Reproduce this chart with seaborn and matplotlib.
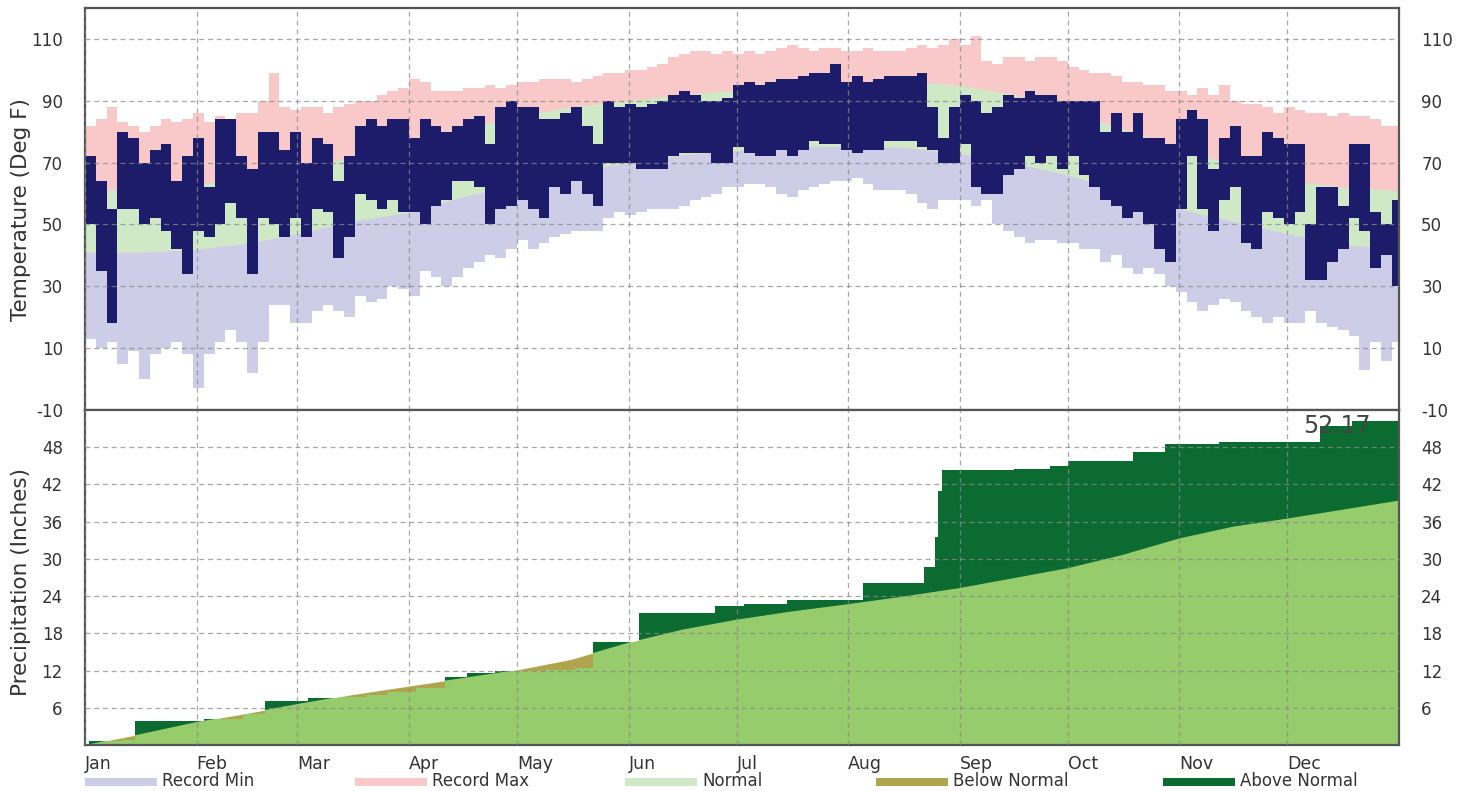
import numpy as np
import matplotlib
matplotlib.use("Agg")
import matplotlib.pyplot as plt
from matplotlib.patches import Rectangle
import seaborn as sns

# ---- data ----
months = ["Jan", "Feb", "Mar", "Apr", "May", "Jun", "Jul", "Aug", "Sep", "Oct", "Nov", "Dec"]
month_starts = [0, 31, 59, 90, 120, 151, 181, 212, 243, 273, 304, 334]

# temperatures in 3-day bins (deg F)
rec_max = [82, 84, 88, 83, 82, 80, 82, 84, 83, 84, 86, 83, 85, 84, 86, 86, 90, 99, 88, 87,
           88, 88, 86, 88, 89, 90, 90, 92, 93, 94, 97, 96, 93, 93, 93, 94, 94, 95, 94, 95, 96,
           96, 97, 97, 97, 96, 97, 98, 99, 99, 100, 100, 101, 102, 104, 105, 106, 106, 105, 106, 105,
           106, 105, 106, 107, 108, 107, 106, 107, 107, 106, 106, 107, 106, 106, 106, 107, 108, 107, 108, 110,
           108, 111, 103, 102, 104, 104, 103, 104, 104, 103, 101, 100, 99, 99, 98, 96, 96, 95, 95, 93, 93,
           92, 94, 92, 95, 90, 89, 89, 88, 86, 88, 87, 86, 86, 85, 86, 85, 85, 84, 82, 82]
rec_min = [13, 10, 12, 5, 9, 0, 8, 10, 12, 8, -3, 8, 12, 16, 12, 2, 12, 24, 24, 18,
           18, 22, 24, 22, 20, 27, 25, 26, 30, 29, 27, 35, 33, 30, 33, 36, 38, 40, 39, 42, 45,
           42, 44, 46, 47, 48, 48, 48, 52, 54, 53, 54, 55, 55, 55, 56, 58, 59, 60, 62, 62,
           63, 63, 62, 60, 59, 61, 62, 63, 64, 64, 65, 63, 61, 61, 61, 60, 57, 55, 58, 58,
           58, 56, 58, 50, 48, 46, 44, 45, 45, 44, 44, 42, 42, 38, 40, 36, 34, 36, 34, 30, 28,
           25, 22, 24, 26, 25, 22, 20, 18, 20, 18, 18, 22, 18, 17, 16, 14, 3, 12, 6, 12]
act_high = [72, 64, 55, 80, 78, 70, 74, 76, 64, 72, 78, 62, 84, 84, 72, 68, 80, 80, 74, 80,
            70, 78, 76, 64, 72, 82, 84, 82, 84, 84, 78, 84, 82, 80, 82, 84, 85, 76, 88, 90, 88,
            88, 84, 84, 86, 88, 82, 76, 90, 88, 89, 88, 89, 90, 92, 93, 92, 90, 90, 91, 95,
            96, 95, 96, 97, 97, 98, 99, 99, 102, 96, 98, 96, 97, 98, 98, 98, 99, 88, 78, 88,
            92, 90, 86, 88, 92, 91, 93, 92, 92, 90, 90, 90, 90, 80, 86, 80, 86, 78, 78, 76, 84,
            87, 84, 68, 78, 82, 72, 72, 80, 78, 76, 76, 50, 62, 62, 56, 76, 76, 54, 50, 58]
act_low = [50, 35, 18, 55, 55, 50, 52, 48, 42, 34, 48, 46, 50, 57, 52, 34, 52, 50, 46, 52,
           46, 55, 54, 39, 46, 60, 58, 55, 58, 54, 54, 50, 56, 58, 64, 64, 62, 50, 55, 56, 58,
           55, 52, 62, 60, 64, 60, 56, 70, 70, 70, 68, 68, 68, 72, 73, 73, 73, 70, 70, 75,
           73, 72, 72, 74, 72, 74, 77, 76, 76, 74, 73, 74, 74, 77, 77, 77, 75, 74, 70, 70,
           76, 62, 60, 60, 66, 68, 72, 70, 72, 68, 72, 66, 62, 58, 56, 52, 54, 50, 42, 38, 55,
           72, 55, 48, 58, 62, 44, 42, 54, 52, 50, 54, 32, 32, 38, 42, 52, 48, 36, 40, 30]

norm_days = [0, 15, 31, 45, 59, 74, 90, 105, 120, 135, 151, 166, 181, 196, 212, 227, 243,
             258, 273, 288, 304, 319, 334, 349, 365]
norm_high = [61, 61.5, 63, 65, 67.5, 72, 78, 81, 85, 88, 90, 92, 93.5, 95, 96, 96.5, 95,
             92, 87, 81, 75, 69, 64.5, 62, 61]
norm_low = [41, 41, 42, 44, 47, 51, 54, 59, 63, 67, 70, 72.5, 74, 75, 75.5, 75, 73,
            70, 66, 61, 55, 51, 47, 43.5, 42]

# precipitation (inches)
pnorm = [0, 1.7, 3.7, 5.1, 6.6, 8.1, 9.5, 10.8, 12.1, 13.8, 16.5, 18.6, 20.2, 21.5, 22.7,
         23.9, 25.3, 26.9, 28.5, 30.6, 33.3, 35.2, 36.5, 37.9, 39.4]
rain_days = [1, 10, 14, 33, 44, 50, 62, 71, 78, 84, 92, 100, 106, 114, 128, 136, 141, 154,
             175, 183, 195, 216, 233, 236, 237, 238, 258, 268, 273, 291, 300, 315, 331, 343, 352]
rain_total = [0.6, 0.75, 3.9, 4.2, 5.0, 7.1, 7.5, 7.7, 8.0, 8.6, 9.2, 10.9, 11.6, 11.9, 12.1,
              12.4, 16.6, 21.2, 22.4, 22.7, 23.4, 26.1, 28.7, 33.5, 41.0, 44.3, 44.5, 45.0,
              45.7, 47.3, 48.5, 48.8, 48.9, 51.5, 52.17]

# ---- colours ----
c_min = "#cdcde8"
c_max = "#f9c9c9"
c_norm = "#cfe9c6"
c_act = "#1c1c6a"
c_pnorm = "#96cc6c"
c_above = "#0b6b31"
c_below = "#b1a44e"

sns.set_theme(style="white")
plt.rcParams["font.family"] = ["DejaVu Sans"]
plt.rcParams["axes.unicode_minus"] = False

W, H = 1465, 791
fig = plt.figure(figsize=(W / 100, H / 100), dpi=100)
left, right = 85 / W, 1399 / W
ax_t = fig.add_axes([left, 1 - 410 / H, right - left, (410 - 8) / H])
ax_p = fig.add_axes([left, 1 - 745 / H, right - left, (745 - 410) / H])

bins = np.arange(len(rec_max)) * 3
rec_max_a = np.array(rec_max)
rec_min_a = np.array(rec_min)
hi = np.array(act_high)
lo = np.array(act_low)

# ---- temperature panel ----
ax_t.bar(bins, rec_max_a + 10, bottom=-10, width=3, align="edge", color=c_max, linewidth=0)
ax_t.fill_between(norm_days, -10, norm_low, color=c_min, linewidth=0)
ax_t.fill_between(norm_days, norm_low, norm_high, color=c_norm, linewidth=0)
ax_t.bar(bins, rec_min_a + 10, bottom=-10, width=3, align="edge", color="white", linewidth=0)
ax_t.bar(bins, hi - lo, bottom=lo, width=3, align="edge", color=c_act, linewidth=0)
ax_t.set_ylim(-10, 120)
ax_t.set_yticks(np.arange(-10, 111, 20))

# ---- precipitation panel ----
px = [0] + rain_days + [365]
py = [0] + rain_total + [rain_total[-1]]
ax_p.fill_between(px, 0, py, step="post", color=c_above, linewidth=0)
normal_area = ax_p.fill_between(norm_days, 0, pnorm, color=c_below, linewidth=0)
light = ax_p.fill_between(px, 0, py, step="post", color=c_pnorm, linewidth=0)
light.set_clip_path(normal_area.get_paths()[0], ax_p.transData)
ax_p.set_ylim(0, 54)
ax_p.set_yticks(np.arange(6, 49, 6))
ax_p.text(357, 53.3, "52.17", ha="right", va="top", fontsize=17, color="#444444")

for ax in (ax_t, ax_p):
    ax.set_xlim(0, 365)
    ax.set_xticks(month_starts)
    ax.set_axisbelow(False)
    ax.grid(True, color="#8a8a8a", linestyle=(0, (4, 3)), linewidth=0.9, alpha=0.75)
    ax.tick_params(axis="y", left=False, right=False, labelleft=True, labelright=True,
                   labelsize=12, labelcolor="#333333", pad=10)
    ax.tick_params(axis="x", bottom=False, labelsize=12.5, labelcolor="#333333", pad=1)
    ax.set_facecolor("white")
    for s in ax.spines.values():
        s.set_color("#555555")
        s.set_linewidth(1.6)
        s.set_visible(True)

ax_t.tick_params(axis="x", labelbottom=False)
ax_p.set_xticklabels(months, ha="left")

fig.text(0.014, 1 - 210 / H, "Temperature (Deg F)", rotation=90, ha="center", va="center",
         fontsize=15.5, color="#333333")
fig.text(0.014, 1 - 582 / H, "Precipitation (Inches)", rotation=90, ha="center", va="center",
         fontsize=15.5, color="#333333")

# ---- legend ----
legend_items = [("Record Min", c_min, 85), ("Record Max", c_max, 355), ("Normal", c_norm, 625),
                ("Below Normal", c_below, 876), ("Above Normal", c_above, 1163)]
for label, col, x0 in legend_items:
    fig.add_artist(Rectangle((x0 / W, 1 - 786 / H), 72 / W, 8 / H, transform=fig.transFigure,
                             color=col, linewidth=0))
    fig.text((x0 + 77) / W, 1 - 781 / H, label, ha="left", va="center", fontsize=12,
             color="#333333")

fig.savefig("out.png", dpi=100, facecolor="white")
